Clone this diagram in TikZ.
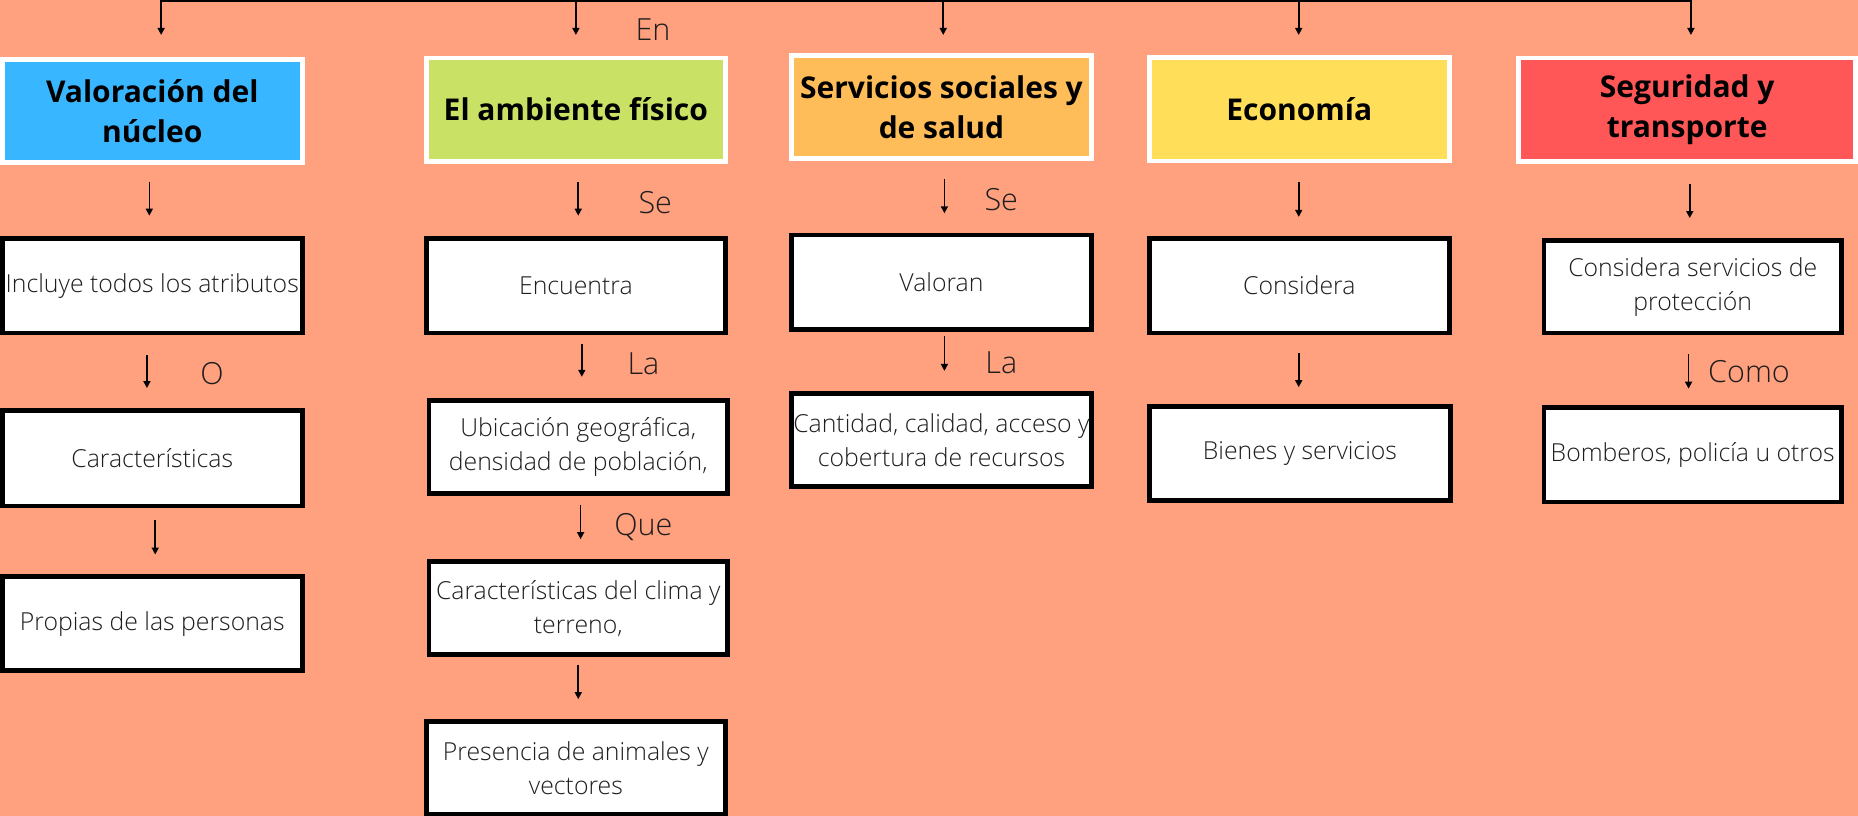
\documentclass[tikz,border=0pt]{standalone}
\usepackage{fontspec}
\setmainfont{Open Sans}
\IfFontExistsTF{Open Sans Light}{\newfontfamily\lightf{Open Sans Light}}{\newfontfamily\lightf{Open Sans}}
\usetikzlibrary{arrows.meta}
\definecolor{bg}{HTML}{FFA07E}
\definecolor{cblue}{HTML}{38B6FF}
\definecolor{cgreen}{HTML}{C9E265}
\definecolor{corange}{HTML}{FFBD59}
\definecolor{cyellow}{HTML}{FFDE59}
\definecolor{cred}{HTML}{FF5757}
\definecolor{txt}{HTML}{1E1E1E}
\def\pxu{1.18495pt}
\tikzset{
  sz/.style 2 args={minimum width={(#1-4)*\pxu}, minimum height={(#2-4)*\pxu}},
  hdr/.style={draw=white, line width=4.7pt, inner sep=0pt, align=center,
    font=\bfseries\fontsize{30}{40}\selectfont, text=black},
  wbox/.style={draw=black, fill=white, line width=4.7pt, inner sep=0pt, align=center,
    font=\lightf\fontsize{24.8}{34}\selectfont, text=txt},
  lbl/.style={font=\lightf\fontsize{30.5}{34}\selectfont, text=txt, inner sep=0pt},
  arr/.style={-{Triangle[length=7pt,width=7pt]}, line width=1.6pt, black},
  topline/.style={line width=1.8pt, black}
}
\begin{document}
\begin{tikzpicture}[x=1.18495pt,y=-1.18495pt]
\fill[bg] (0,0) rectangle (1568,688.6);
\useasboundingbox (0,0) rectangle (1568,688.6);

% header boxes
\node[hdr, fill=cblue, sz={257}{91.4}] (h1) at (128.5,93.7) {Valoración del\\núcleo};
\node[hdr, fill=cgreen, sz={256}{91}] (h2) at (486,92.5) {El ambiente físico};
\node[hdr, fill=corange, sz={257}{91.5}] (h3) at (794.5,90.3) {Servicios sociales y\\de salud};
\node[hdr, fill=cyellow, sz={257}{91.4}] (h4) at (1096.5,92.1) {Economía};
\node[hdr, fill=cred, sz={288.5}{91.4}] (h5) at (1423.8,92.7) {Seguridad y\\transporte};

% row 2
\node[wbox, sz={257}{84}] (b11) at (128.5,241) {Incluye todos los atributos};
\node[wbox, sz={256}{84}] (b21) at (486,241) {Encuentra};
\node[wbox, sz={257}{83.6}] (b31) at (794.5,238.2) {Valoran};
\node[wbox, sz={257}{84}] (b41) at (1096.5,241) {Considera};
\node[wbox, sz={255}{82}] (b51) at (1428.5,242) {Considera servicios de\\protección};

% row 3
\node[wbox, sz={257}{84.5}] (b12) at (128.5,386.8) {Características};
\node[wbox, sz={256}{82.6}] (b22) at (488,377.3) {Ubicación geográfica,\\densidad de población,};
\node[wbox, sz={257}{82.7}] (b32) at (794.5,371.4) {Cantidad, calidad, acceso y\\cobertura de recursos};
\node[wbox, sz={258}{83.6}] (b42) at (1097,382.8) {Bienes y servicios};
\node[wbox, sz={255}{83.5}] (b52) at (1428.5,383.8) {Bomberos, policía u otros};

% row 4 and 5
\node[wbox, sz={257}{83.4}] (b13) at (128.5,526.3) {Propias de las personas};
\node[wbox, sz={256}{82.5}] (b23) at (488,513.3) {Características del clima y\\terreno,};
\node[wbox, sz={256}{82}] (b24) at (486,648) {Presencia de animales y\\vectores};

% labels
\node[lbl] (lEn) at (551,25) {En};
\node[lbl] (lSe1) at (553,171) {Se};
\node[lbl] (lSe2) at (845,168.6) {Se};
\node[lbl] (lO) at (179,315) {O};
\node[lbl] (lLa1) at (543,307) {La};
\node[lbl] (lLa2) at (845,306) {La};
\node[lbl, anchor=base] (lQue) at (543,452) {Que};
\node[lbl] (lComo) at (1476,314) {Como};

% top bar and arrows
\coordinate (tL) at (136,1);
\coordinate (tR) at (1427,1);
\draw[topline] (tL) -- (tR);
\foreach \n/\x in {1/136,2/486,3/796,4/1096,5/1427}{
  \coordinate (ts\n) at (\x,0);
  \coordinate (te\n) at (\x,29.5);
  \draw[arr] (ts\n) -- (te\n);
}
% row 2 arrows
\foreach \n/\x/\a/\b in {1/126/153.5/182, 2/488/153.5/182, 3/797/151/180, 4/1096/154/183, 5/1426/155/184}{
  \coordinate (rs\n) at (\x,\a);
  \coordinate (re\n) at (\x,\b);
  \draw[arr] (rs\n) -- (re\n);
}
% row 3 arrows
\foreach \n/\x/\a/\b in {1/124/299.6/327.5, 2/491/290/318, 3/797/283.6/313, 4/1096/298/326.7, 5/1425/299/328}{
  \coordinate (ss\n) at (\x,\a);
  \coordinate (se\n) at (\x,\b);
  \draw[arr] (ss\n) -- (se\n);
}
% row 4/5 arrows
\coordinate (us1) at (131,439);
\coordinate (ue1) at (131,468);
\draw[arr] (us1) -- (ue1);
\coordinate (us2) at (490,426);
\coordinate (ue2) at (490,455);
\draw[arr] (us2) -- (ue2);
\coordinate (vs2) at (488,561);
\coordinate (ve2) at (488,590);
\draw[arr] (vs2) -- (ve2);
\end{tikzpicture}
\end{document}
